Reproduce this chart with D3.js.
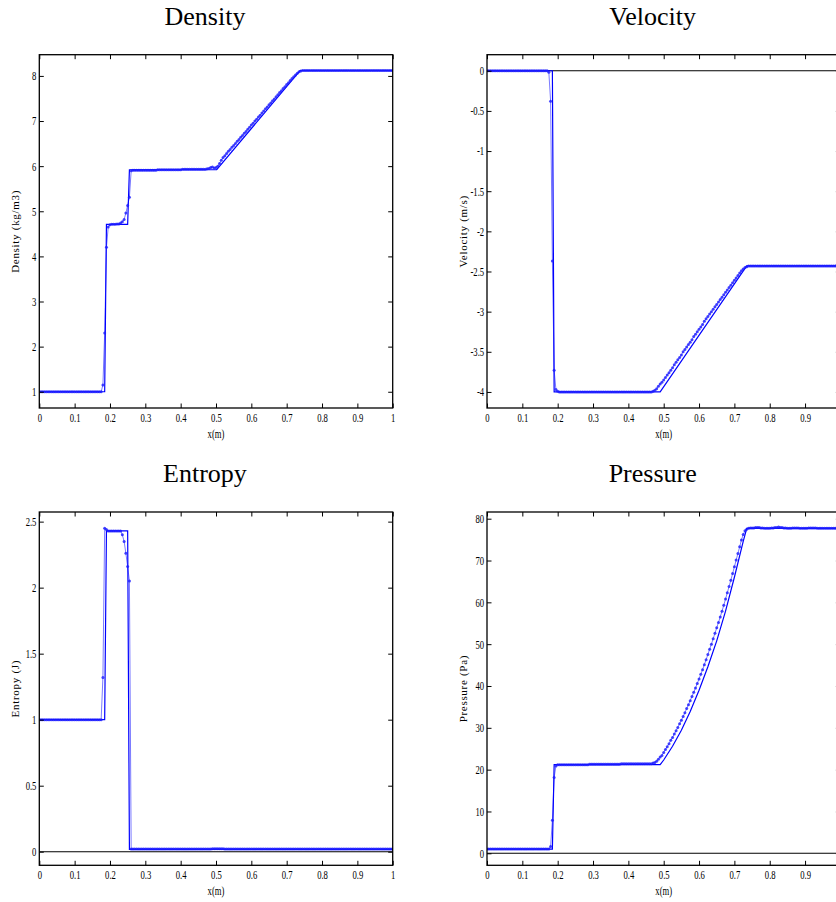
<!DOCTYPE html>
<html>
<head>
<meta charset="utf-8">
<script src="https://cdn.jsdelivr.net/npm/d3@7/dist/d3.min.js"></script>
<style>
  html, body { margin: 0; padding: 0; background: #fff; }
  svg { display: block; }
</style>
</head>
<body>
<svg id="chart" width="836" height="902"></svg>
<script>
// ---------------- DATA ----------------
// numerical solution on 201 grid nodes x = 0, 0.005, ..., 1
const gridCount = 201;
const gridStep = 0.005;

const densityNum = [
1,1,1,1,1,1,1,1,1,1,
1,1,1,1,1,1,1,1,1,1,
1,1,1,1,1,1,1,1,1,1,
1,1,1,1,1,1,
1.15,2.30,4.20,4.65,4.70,4.71,4.71,4.71,4.72,4.72,4.74,4.77,4.82,4.96,5.13,5.31,5.90,
5.91,5.91,5.91,5.91,5.91,5.91,5.91,5.91,5.91,5.91,5.91,5.91,5.91,5.91,
5.92,5.92,5.92,5.92,5.92,5.92,5.92,5.92,5.92,5.92,5.92,5.92,5.92,5.92,
5.93,5.93,5.93,5.93,5.93,5.93,5.93,5.93,5.93,5.93,5.93,5.93,5.93,5.93,
5.94,5.95,5.97,5.98,5.96,5.97,6.00,6.06,
6.13,6.19,6.23,6.28,6.33,6.37,6.42,6.46,6.50,6.55,
6.59,6.64,6.68,6.73,6.77,6.82,6.86,6.91,6.95,7.00,
7.04,7.09,7.13,7.18,7.22,7.27,7.31,7.36,7.40,7.45,
7.49,7.54,7.58,7.63,7.67,7.72,7.76,7.81,7.85,7.90,
7.94,7.98,8.02,8.06,8.09,8.11,8.12,
8.12,8.12,8.12,8.12,8.12,8.12,8.12,8.12,8.12,8.12,
8.12,8.12,8.12,8.12,8.12,8.12,8.12,8.12,8.12,8.12,
8.12,8.12,8.12,8.12,8.12,8.12,8.12,8.12,8.12,8.12,
8.12,8.12,8.12,8.12,8.12,8.12,8.12,8.12,8.12,8.12,
8.12,8.12,8.12,8.12,8.12,8.12,8.12,8.12,8.12,8.12,
8.12
];

const velocityNum = [
0,0,0,0,0,0,0,0,0,0,
0,0,0,0,0,0,0,0,0,0,
0,0,0,0,0,0,0,0,0,0,
0,0,0,0,0,
-0.02,-0.38,-2.37,-3.73,-3.97,-3.99,
-4,-4,-4,-4,-4,-4,-4,-4,-4,-4,
-4,-4,-4,-4,-4,-4,-4,-4,-4,-4,
-4,-4,-4,-4,-4,-4,-4,-4,-4,-4,
-4,-4,-4,-4,-4,-4,-4,-4,-4,-4,
-4,-4,-4,-4,-4,-4,-4,-4,-4,-4,
-4,-4,-4,
-3.99,-3.98,-3.96,-3.93,-3.90,-3.88,-3.85,
-3.82,-3.79,-3.76,-3.73,-3.70,-3.66,-3.63,-3.60,-3.57,-3.54,
-3.50,-3.47,-3.44,-3.41,-3.38,-3.35,-3.31,-3.28,-3.25,-3.22,
-3.19,-3.16,-3.12,-3.09,-3.06,-3.03,-3.00,-2.97,-2.94,-2.91,
-2.88,-2.85,-2.82,-2.79,-2.76,-2.73,-2.70,-2.67,-2.64,-2.61,
-2.58,-2.55,-2.52,-2.49,-2.47,-2.45,-2.44,-2.43,
-2.43,-2.43,-2.43,-2.43,-2.43,-2.43,-2.43,-2.43,-2.43,-2.43,
-2.43,-2.43,-2.43,-2.43,-2.43,-2.43,-2.43,-2.43,-2.43,-2.43,
-2.43,-2.43,-2.43,-2.43,-2.43,-2.43,-2.43,-2.43,-2.43,-2.43,
-2.43,-2.43,-2.43,-2.43,-2.43,-2.43,-2.43,-2.43,-2.43,-2.43,
-2.43,-2.43,-2.43,-2.43,-2.43,-2.43,-2.43,-2.43,-2.43,-2.43,
-2.43,-2.43
];

const entropyNum = [
1,1,1,1,1,1,1,1,1,1,
1,1,1,1,1,1,1,1,1,1,
1,1,1,1,1,1,1,1,1,1,
1,1,1,1,1,1,
1.32,2.45,2.44,2.43,2.43,2.43,2.43,2.43,2.43,2.43,2.43,2.40,2.35,2.26,2.16,2.05,
0.02,0.02,0.02,0.02,0.02,0.02,0.02,0.02,0.02,0.02,
0.02,0.02,0.02,0.02,0.02,0.02,0.02,0.02,0.02,0.02,
0.02,0.02,0.02,0.02,0.02,0.02,0.02,0.02,0.02,0.02,
0.02,0.02,0.02,0.02,0.02,0.02,0.02,0.02,0.02,0.02,
0.02,0.02,0.02,0.02,0.02,0.02,
0.023,0.023,0.023,0.023,0.023,0.023,0.023,
0.02,0.02,0.02,0.02,0.02,0.02,0.02,0.02,0.02,0.02,
0.02,0.02,0.02,0.02,0.02,0.02,0.02,0.02,0.02,0.02,
0.02,0.02,0.02,0.02,0.02,0.02,0.02,0.02,0.02,0.02,
0.02,0.02,0.02,0.02,0.02,0.02,0.02,0.02,0.02,0.02,
0.02,0.02,0.02,0.02,0.02,0.02,0.02,0.02,0.02,0.02,
0.02,0.02,0.02,0.02,0.02,0.02,0.02,0.02,0.02,0.02,
0.02,0.02,0.02,0.02,0.02,0.02,0.02,0.02,0.02,0.02,
0.02,0.02,0.02,0.02,0.02,0.02,0.02,0.02,0.02,0.02,
0.02,0.02,0.02,0.02,0.02,0.02,0.02,0.02,0.02,0.02,
0.02,0.02,0.02,0.02,0.02,0.02
];

const pressureNum = [
1,1,1,1,1,1,1,1,1,1,
1,1,1,1,1,1,1,1,1,1,
1,1,1,1,1,1,1,1,1,1,
1,1,1,1,1,1,
1.6,7.9,18.1,20.9,
21.2,21.2,21.2,21.2,21.2,21.2,21.2,21.2,21.2,21.2,21.2,21.2,21.2,21.2,21.2,21.2,21.2,21.2,
21.3,21.3,21.3,21.3,21.3,21.3,21.3,21.3,21.3,21.3,21.3,21.3,21.3,21.3,21.3,21.3,21.3,21.3,
21.4,21.4,21.4,21.4,21.4,21.4,21.4,21.4,21.4,21.4,21.4,21.4,21.4,21.4,21.4,21.4,21.4,21.4,
21.6,21.7,22.0,22.5,23.0,23.4,24.1,
24.8,25.5,26.2,27.0,27.7,28.5,29.3,30.1,31.0,31.8,
32.7,33.6,34.6,35.5,36.5,37.5,38.5,39.5,40.6,41.7,
42.8,43.9,45.1,46.3,47.5,48.8,50.0,51.3,52.6,53.9,
55.2,56.5,57.9,59.3,60.8,62.3,63.8,65.3,66.9,68.5,
70.1,71.7,73.3,74.9,76.2,77.1,77.5,77.7,
77.8,77.8,77.8,77.9,77.9,77.9,77.8,77.8,77.7,77.7,
77.7,77.7,77.8,77.8,77.9,77.9,78.0,77.9,77.9,77.8,
77.8,77.7,77.7,77.7,77.8,77.8,77.8,77.8,77.7,77.7,
77.7,77.7,77.7,77.8,77.8,77.8,77.8,77.8,77.7,77.7,
77.7,77.7,77.7,77.7,77.7,77.7,77.7,77.7,77.7,77.7,
77.7,77.7
];

// exact (reference) solution, piecewise
const densityExactX = [0, 0.185, 0.19, 0.25, 0.255, 0.502, 0.738, 1];
const densityExactY = [1, 1, 4.71, 4.71, 5.92, 5.92, 8.12, 8.12];

const velocityExactX = [0, 0.185, 0.19, 0.49, 0.735, 1];
const velocityExactY = [0, 0, -4, -4, -2.43, -2.43];

const entropyExactX = [0, 0.185, 0.19, 0.25, 0.255, 1];
const entropyExactY = [1, 1, 2.43, 2.43, 0.018, 0.018];

const pressureExactX = [0, 0.185, 0.19, 0.49, 0.5, 0.525, 0.55, 0.575, 0.6, 0.625, 0.65, 0.675, 0.7, 0.725, 0.735, 1];
const pressureExactY = [1, 1, 21.2, 21.2, 22.3, 25.6, 29.4, 33.9, 39.0, 44.6, 50.8, 57.9, 66.0, 74.6, 77.7, 77.7];

const titles = ["Density", "Velocity", "Entropy", "Pressure"];
const yLabels = ["Density (kg/m3)", "Velocity (m/s)", "Entropy (J)", "Pressure (Pa)"];
const xLabel = "x(m)";
const xTicks = [0, 0.1, 0.2, 0.3, 0.4, 0.5, 0.6, 0.7, 0.8, 0.9, 1];
const densityTicks = [1, 2, 3, 4, 5, 6, 7, 8];
const velocityTicks = [0, -0.5, -1, -1.5, -2, -2.5, -3, -3.5, -4];
const entropyTicks = [0, 0.5, 1, 1.5, 2, 2.5];
const pressureTicks = [0, 10, 20, 30, 40, 50, 60, 70, 80];

// ---------------- LAYOUT ----------------
const W = 836;
const panels = [
  { num: densityNum,  exX: densityExactX,  exY: densityExactY,  yDom: [0.64, 8.47],  yTicks: densityTicks,
    box: { x0: 39.3, x1: 392.7, y0: 54.7, y1: 408 } },
  { num: velocityNum, exX: velocityExactX, exY: velocityExactY, yDom: [-4.2, 0.2],   yTicks: velocityTicks,
    box: { x0: 487, x1: 840.4, y0: 54.7, y1: 408 } },
  { num: entropyNum,  exX: entropyExactX,  exY: entropyExactY,  yDom: [-0.103, 2.573], yTicks: entropyTicks,
    box: { x0: 39.3, x1: 392.7, y0: 512, y1: 865.3 } },
  { num: pressureNum, exX: pressureExactX, exY: pressureExactY, yDom: [-2.87, 81.6], yTicks: pressureTicks,
    box: { x0: 487, x1: 840.4, y0: 512, y1: 865.3 } }
];

const svg = d3.select("#chart");
const fmt = d => String(+d.toFixed(3));
const tickFont = "'Liberation Serif', 'Times New Roman', serif";

panels.forEach((p, k) => {
  const b = p.box;
  const x = d3.scaleLinear().domain([0, 1]).range([b.x0, b.x1]);
  const y = d3.scaleLinear().domain(p.yDom).range([b.y1, b.y0]);
  const g = svg.append("g");

  // title
  g.append("text")
    .attr("x", (b.x0 + b.x1) / 2 - 11)
    .attr("y", b.y0 - 30)
    .attr("text-anchor", "middle")
    .attr("font-family", tickFont)
    .attr("font-size", 26)
    .attr("fill", "#000")
    .text(titles[k]);

  const clipId = "clip" + k;
  g.append("clipPath").attr("id", clipId)
    .append("rect").attr("x", b.x0).attr("y", b.y0)
    .attr("width", b.x1 - b.x0).attr("height", b.y1 - b.y0);

  const plot = g.append("g").attr("clip-path", `url(#${clipId})`);

  // zero line
  if (p.yDom[0] < 0 && p.yDom[1] > 0) {
    plot.append("line")
      .attr("x1", x(0)).attr("x2", x(1))
      .attr("y1", y(0)).attr("y2", y(0))
      .attr("stroke", "#000").attr("stroke-width", 1.1);
  }

  const numPts = p.num.map((v, i) => [i * gridStep, v]);
  const exPts = p.exX.map((v, i) => [v, p.exY[i]]);
  const line = d3.line().x(d => x(d[0])).y(d => y(d[1]));

  // numerical connecting line
  plot.append("path").attr("d", line(numPts))
    .attr("fill", "none").attr("stroke", "#7a7aff").attr("stroke-width", 1);

  // exact solution
  plot.append("path").attr("d", line(exPts))
    .attr("fill", "none").attr("stroke", "#0000ff").attr("stroke-width", 1.2);

  // numerical dots
  plot.append("g").selectAll("circle").data(numPts).join("circle")
    .attr("cx", d => x(d[0])).attr("cy", d => y(d[1]))
    .attr("r", 1.5).attr("fill", "#1a1aff").attr("fill-opacity", 0.8);

  // axes (inward ticks on all sides)
  const styleAxis = sel => {
    sel.select(".domain").remove();
    sel.selectAll(".tick line").attr("stroke", "#000").attr("stroke-width", 1);
    sel.selectAll(".tick text")
      .attr("font-family", tickFont).attr("font-size", 12).attr("fill", "#000");
  };

  g.append("g").attr("transform", `translate(0,${b.y1})`)
    .call(d3.axisBottom(x).tickValues(xTicks).tickSize(-4.5).tickPadding(5)
      .tickFormat(d => (x(d) > W - 4 ? "" : fmt(d))))
    .call(styleAxis)
    .call(s => s.selectAll(".tick text").attr("transform", "scale(0.72,1)"));

  g.append("g").attr("transform", `translate(0,${b.y0})`)
    .call(d3.axisTop(x).tickValues(xTicks).tickSize(-4.5).tickFormat(""))
    .call(styleAxis);

  g.append("g").attr("transform", `translate(${b.x0},0)`)
    .call(d3.axisLeft(y).tickValues(p.yTicks).tickSize(-4.5).tickPadding(4).tickFormat(fmt))
    .call(styleAxis)
    .call(s => s.selectAll(".tick text").attr("transform", "scale(0.72,1)"));

  g.append("g").attr("transform", `translate(${b.x1},0)`)
    .call(d3.axisRight(y).tickValues(p.yTicks).tickSize(-4.5).tickFormat(""))
    .call(styleAxis);

  // box
  g.append("rect")
    .attr("x", b.x0).attr("y", b.y0)
    .attr("width", b.x1 - b.x0).attr("height", b.y1 - b.y0)
    .attr("fill", "none").attr("stroke", "#000").attr("stroke-width", 1.3);

  // x label
  g.append("text")
    .attr("transform", `translate(${(b.x0 + b.x1) / 2},${b.y1 + 30}) scale(0.72,1)`)
    .attr("text-anchor", "middle")
    .attr("font-family", tickFont).attr("font-size", 12).attr("fill", "#000")
    .text(xLabel);

  // y label
  g.append("text")
    .attr("transform", `translate(${b.x0 - 20},${(b.y0 + b.y1) / 2}) rotate(-90)`)
    .attr("text-anchor", "middle")
    .attr("font-family", tickFont).attr("font-size", 11)
    .attr("letter-spacing", 0.7).attr("fill", "#000")
    .text(yLabels[k]);
});
</script>
</body>
</html>
